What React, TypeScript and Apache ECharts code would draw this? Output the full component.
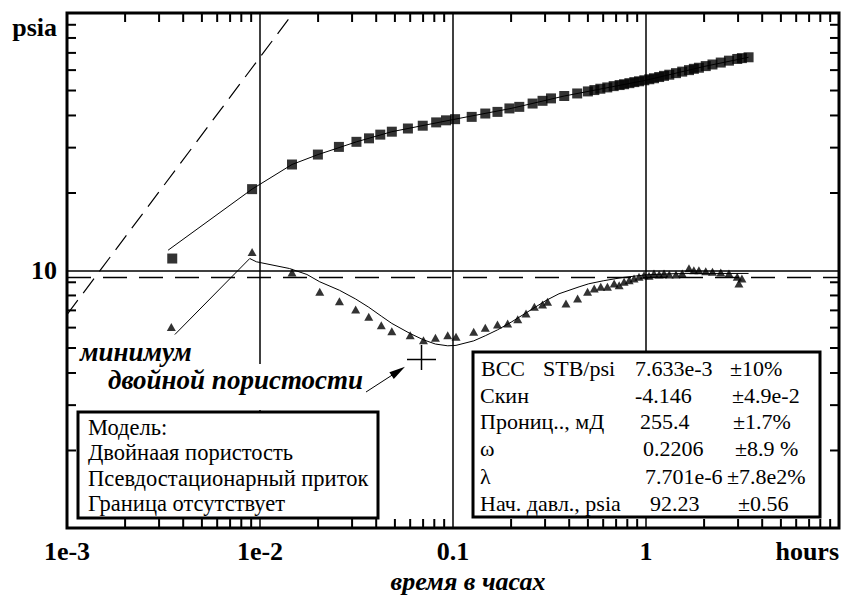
import React, { useEffect, useRef } from 'react';
import * as echarts from 'echarts';

// ---------- data ----------
const xTickLabels = ['1e-3', '1e-2', '0.1', '1', 'hours']; // exponents -3..1
const yTickLabels = ['', '10', 'psia']; // exponents 0..2

const pressureTime = [0.00351, 0.0091, 0.01465, 0.01995, 0.02564, 0.0316, 0.0367, 0.042, 0.0482, 0.0584, 0.0697, 0.0818, 0.092, 0.1025, 0.125, 0.147, 0.17, 0.196, 0.2205, 0.2585, 0.291, 0.322, 0.377, 0.44, 0.5, 0.54, 0.58, 0.63, 0.68, 0.73, 0.77, 0.82, 0.87, 0.92, 0.98, 1.04, 1.1, 1.17, 1.24, 1.32, 1.43, 1.54, 1.67, 1.77, 1.88, 2.04, 2.21, 2.44, 2.69, 2.97, 3.14, 3.4];
const pressureValue = [11.13, 20.7, 25.8, 28.2, 30.2, 31.6, 32.6, 33.7, 34.6, 35.6, 36.5, 37.6, 38.3, 38.7, 39.5, 40.7, 41.3, 42.6, 43.2, 44.5, 45.6, 46.6, 47.6, 48.7, 49.6, 50.2, 50.8, 51.4, 52.0, 52.5, 52.9, 53.4, 53.9, 54.3, 54.8, 55.3, 55.8, 56.4, 57.0, 57.6, 58.4, 59.2, 60.0, 60.7, 61.3, 62.2, 63.1, 64.2, 65.3, 66.3, 66.8, 67.3];

const derivTime = [0.00347, 0.0091, 0.01465, 0.0204, 0.0258, 0.0313, 0.0366, 0.0425, 0.0482, 0.06, 0.0703, 0.0811, 0.0939, 0.1037, 0.128, 0.147, 0.17, 0.192, 0.2165, 0.239, 0.264, 0.291, 0.309, 0.385, 0.442, 0.498, 0.539, 0.583, 0.631, 0.684, 0.726, 0.77, 0.818, 0.867, 0.92, 0.977, 1.037, 1.1, 1.17, 1.24, 1.32, 1.43, 1.54, 1.67, 1.77, 1.88, 2.04, 2.21, 2.44, 2.69, 2.97, 3.03, 3.14];
const derivValue = [6.04, 11.8, 9.82, 8.27, 7.6, 7.06, 6.61, 6.13, 5.81, 5.61, 5.36, 5.48, 5.61, 5.53, 5.78, 5.99, 6.17, 6.22, 6.47, 6.81, 7.23, 7.38, 7.56, 7.44, 7.78, 8.27, 8.51, 8.64, 8.64, 8.9, 8.77, 9.04, 9.17, 9.31, 9.45, 9.59, 9.54, 9.74, 9.65, 9.74, 9.65, 9.65, 9.74, 10.2, 10.03, 10.03, 9.94, 9.88, 9.82, 9.74, 9.45, 8.9, 9.31];

const modelPTime = [0.00334, 0.0091, 0.01465, 0.02, 0.0316, 0.0482, 0.1025, 0.2, 0.377, 1.0, 2.0, 3.4];
const modelPValue = [11.99, 20.7, 25.8, 28.2, 31.6, 34.6, 38.7, 42.6, 47.6, 54.8, 62.0, 67.3];

const modelDTime = [0.00362, 0.00885, 0.00958, 0.0142, 0.0175, 0.0204, 0.0258, 0.0313, 0.0366, 0.0425, 0.0482, 0.06, 0.0703, 0.0811, 0.0939, 0.1037, 0.128, 0.147, 0.17, 0.2015, 0.2585, 0.3035, 0.354, 0.45, 0.505, 0.6, 0.754, 1.0, 1.4, 1.88, 3.4];
const modelDValue = [5.64, 11.13, 10.81, 10.18, 9.65, 9.04, 8.38, 7.75, 7.2, 6.65, 6.23, 5.69, 5.38, 5.18, 5.1, 5.12, 5.33, 5.58, 5.88, 6.32, 7.1, 7.65, 8.12, 8.64, 8.88, 9.12, 9.39, 9.62, 9.72, 9.74, 9.74];

const wbsTime = [0.001, 0.01485];
const wbsValue = [6.74, 100];

const radialTime = [0.001, 10];
const radialValue = [9.39, 9.39];

const xMinorTicks = [0.002, 0.003, 0.004, 0.005, 0.006, 0.007, 0.008, 0.009, 0.02, 0.03, 0.04, 0.05, 0.06, 0.07, 0.08, 0.09, 0.2, 0.3, 0.4, 0.5, 0.6, 0.7, 0.8, 0.9, 2, 3, 4, 5, 6, 7, 8, 9];
const yMinorTicks = [2, 3, 4, 5, 6, 7, 8, 9, 20, 30, 40, 50, 60, 70, 80, 90];

const modelLines = ['Модель:', 'Двойнаая пористость', 'Псевдостационарный приток', 'Граница отсутствует'];
const paramNames = ['Скин', 'Прониц.., мД', 'ω', 'λ', 'Нач. давл., psia'];
const paramValues = ['7.633e-3', '-4.146', '255.4', '0.2206', '7.701e-6', '92.23'];
const paramErrors = ['±10%', '±4.9e-2', '±1.7%', '±8.9 %', '±7.8e2%', '±0.56'];

const X_MIN = 0.001, X_MAX = 10, Y_MIN = 1, Y_MAX = 100;
const SERIF = 'Liberation Serif';

const zip = (a: number[], b: number[]) => a.map((v, i) => [v, b[i]]);

export default function App() {
  const ref = useRef<HTMLDivElement>(null);
  useEffect(() => {
    document.body.style.margin = '0';
    const chart = echarts.init(ref.current!, null, { renderer: 'svg' });
    const TICK = 9;

    const txt = (text: string, x: number, y: number, size: number, weight = 'normal', style = 'normal') => ({
      type: 'text', x, y, z: 110,
      style: { text, fill: '#000', fontFamily: SERIF, fontSize: size, fontWeight: weight, fontStyle: style, align: 'left', verticalAlign: 'middle' },
    });

    chart.setOption({
      animation: false,
      backgroundColor: '#fff',
      grid: { left: 67, right: 3, top: 13, bottom: 68, show: true, borderColor: '#000', borderWidth: 3, backgroundColor: 'transparent', outerBoundsMode: 'none' },
      xAxis: {
        type: 'log', logBase: 10, min: X_MIN, max: X_MAX,
        axisLine: { show: false }, axisTick: { show: false },
        splitLine: { show: true, lineStyle: { color: '#000', width: 1.5 } },
        axisLabel: {
          margin: 10, color: '#000', fontFamily: SERIF, fontWeight: 'bold', fontSize: 26,
          showMinLabel: true, showMaxLabel: true, alignMaxLabel: 'right',
          formatter: (v: number) => xTickLabels[Math.round(Math.log10(v)) + 3] ?? '',
        },
        name: 'время в часах', nameLocation: 'middle', nameGap: 38,
        nameTextStyle: { color: '#000', fontFamily: SERIF, fontWeight: 'bold', fontStyle: 'italic', fontSize: 26, padding: [0, 0, 0, 30] },
      },
      yAxis: {
        type: 'log', logBase: 10, min: Y_MIN, max: Y_MAX,
        axisLine: { show: false }, axisTick: { show: false },
        splitLine: { show: true, lineStyle: { color: '#000', width: 1.5 } },
        axisLabel: {
          margin: 10, color: '#000', fontFamily: SERIF, fontWeight: 'bold', fontSize: 26,
          showMinLabel: true, showMaxLabel: true,
          formatter: (v: number) => {
            const e = Math.round(Math.log10(v));
            const s = yTickLabels[e] ?? '';
            return e === 2 ? `{top|${s}}` : s;
          },
          rich: { top: { padding: [28, 0, 0, 0], fontFamily: SERIF, fontWeight: 'bold', fontSize: 26, color: '#000' } },
        },
      },
      series: [
        {
          type: 'line', data: zip(wbsTime, wbsValue), symbol: 'none', silent: true,
          lineStyle: { color: '#000', width: 1.2, type: [18, 9] },
        },
        {
          type: 'line', data: zip(radialTime, radialValue), symbol: 'none', silent: true,
          lineStyle: { color: '#000', width: 1.5, type: [24, 12] },
        },
        {
          type: 'line', data: zip(modelPTime, modelPValue), symbol: 'none', silent: true,
          lineStyle: { color: '#000', width: 1 },
        },
        {
          type: 'line', data: zip(modelDTime, modelDValue), symbol: 'none', silent: true,
          lineStyle: { color: '#000', width: 1 },
        },
        {
          type: 'scatter', data: zip(pressureTime, pressureValue), symbol: 'rect', symbolSize: 10, silent: true,
          itemStyle: { color: '#000' },
        },
        {
          type: 'scatter', data: zip(derivTime, derivValue), symbol: 'triangle', symbolSize: [9, 8], silent: true,
          itemStyle: { color: '#000' },
        },
      ],
    });

    // minor ticks placed through the chart's own scales
    const px = (t: number, p: number) => chart.convertToPixel({ xAxisIndex: 0, yAxisIndex: 0 }, [t, p]) as number[];
    const tickLine = (x1: number, y1: number, x2: number, y2: number) => ({
      type: 'line', z: 50, shape: { x1, y1, x2, y2 }, style: { stroke: '#000', lineWidth: 2 },
    });
    const ticks: any[] = [];
    xMinorTicks.forEach((t) => {
      const a = px(t, Y_MAX); const b = px(t, Y_MIN);
      ticks.push(tickLine(a[0], a[1], a[0], a[1] + TICK));
      ticks.push(tickLine(b[0], b[1], b[0], b[1] - TICK));
    });
    yMinorTicks.forEach((p) => {
      const a = px(X_MIN, p); const b = px(X_MAX, p);
      ticks.push(tickLine(a[0], a[1], a[0] + TICK, a[1]));
      ticks.push(tickLine(b[0], b[1], b[0] - TICK, b[1]));
    });

    const rowY = [368, 395, 421, 448, 476, 503];
    const graphic: any[] = [
      ...ticks,
      { type: 'rect', z: 100, shape: { x: 100, y: 364, width: 268, height: 46 }, style: { fill: '#fff' } },
      txt('минимум', 80, 352, 27, 'bold', 'italic'),
      txt('двойной пористости', 108, 380, 27, 'bold', 'italic'),
      { type: 'line', z: 110, shape: { x1: 366, y1: 392, x2: 400, y2: 370 }, style: { stroke: '#000', lineWidth: 1 } },
      { type: 'polygon', z: 110, shape: { points: [[405, 366.7], [393.8, 378.9], [389.4, 372.2]] }, style: { fill: '#000' } },
      { type: 'line', z: 110, shape: { x1: 407, y1: 359.5, x2: 436, y2: 359.5 }, style: { stroke: '#000', lineWidth: 1.5 } },
      { type: 'line', z: 110, shape: { x1: 421.5, y1: 345, x2: 421.5, y2: 370 }, style: { stroke: '#000', lineWidth: 1.5 } },
      { type: 'rect', z: 105, shape: { x: 78, y: 412, width: 300, height: 106 }, style: { fill: '#fff', stroke: '#000', lineWidth: 3 } },
      ...modelLines.map((t, i) => txt(t, 88, 427 + i * 25.5, 22.5)),
      { type: 'rect', z: 105, shape: { x: 473, y: 352, width: 347, height: 165 }, style: { fill: '#fff', stroke: '#000', lineWidth: 3 } },
      txt('BCC', 481, rowY[0], 22),
      txt('STB/psi', 543, rowY[0], 22),
      ...paramNames.map((t, i) => txt(t, 480, rowY[i + 1], 22)),
      ...paramValues.map((t, i) => txt(t, [635, 635, 640, 643, 645, 650][i], rowY[i], 22)),
      ...paramErrors.map((t, i) => txt(t, [730, 732, 733, 735, 727, 738][i], rowY[i], 22)),
    ];
    chart.setOption({ graphic });

    return () => chart.dispose();
  }, []);
  return <div ref={ref} style={{ position: 'fixed', left: 0, top: 0, width: 842, height: 596 }} />;
}
